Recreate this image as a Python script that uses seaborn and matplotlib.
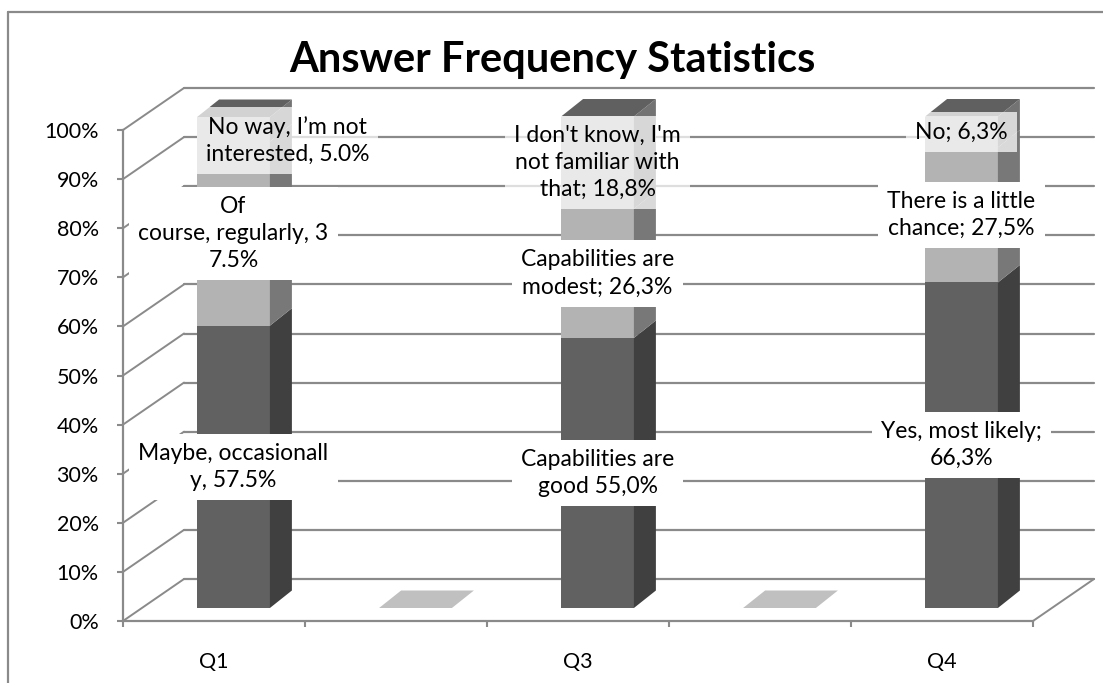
import numpy as np
import matplotlib
matplotlib.use("Agg")
import matplotlib.pyplot as plt
from matplotlib.patches import Polygon
from matplotlib.lines import Line2D
import seaborn as sns

# five category slots, the 2nd and 4th are empty in the source chart
slots = [0, 1, 2, 3, 4]
tick_labels = ["Q1", "", "Q3", "", "Q4"]

# stacked series, bottom to top (percent)
bottom_vals = [57.5, 0.0, 55.0, 0.0, 66.3]
middle_vals = [37.5, 0.0, 26.3, 0.0, 27.5]
top_vals = [5.0, 0.0, 18.8, 0.0, 6.3]

bottom_labels = ["Maybe, occasionall\ny, 57.5%", "", "Capabilities are\ngood 55,0%", "",
                 "Yes, most likely;\n66,3%"]
middle_labels = ["Of\ncourse, regularly, 3\n7.5%", "", "Capabilities are\nmodest; 26,3%", "",
                 "There is a little\nchance; 27,5%"]
top_labels = ["No way, I\u2019m not\ninterested, 5.0%", "",
              "I don't know, I'm\nnot familiar with\nthat; 18,8%", "", "No; 6,3%"]

y_ticks = [0, 10, 20, 30, 40, 50, 60, 70, 80, 90, 100]
title = "Answer Frequency Statistics"

# ---- geometry of the fake 3d box, in pixels ----
W, H = 1103, 683
AX_L, AX_R, AX_T, AX_B = 123, 1033, 130, 621
PX_X = (AX_R - AX_L) / 5.0
PX_Y = (AX_B - AX_T) / 100.0


def off(dx, dy):
    """pixel offset -> data offset"""
    return dx / PX_X, dy / PX_Y


WALL = off(61, 42)      # front plane -> back wall
BAR = off(19.5, 13)     # front plane -> bar front faces
DEPTH = off(22, 17.5)   # bar depth

GRID_C = "#8a8a8a"
front_colors = ["#616161", "#b3b3b3", "#b3b3b3"]
side_colors = ["#404040", "#787878", "#737373"]
label_alpha = [1.0, 1.0, 0.72]   # the top labels let the bar show through
TOP_C = "#606060"
SLAB_C = "#c0c0c0"

sns.set_theme(style="white")
plt.rcParams["font.family"] = ["Lato", "DejaVu Sans"]

fig = plt.figure(figsize=(W / 100, H / 100), dpi=100)
ax = fig.add_axes([AX_L / W, (H - AX_B) / H, (AX_R - AX_L) / W, (AX_B - AX_T) / H])
ax.set_facecolor("none")

# back wall, left wall and floor lines
for v in y_ticks:
    ax.plot([-0.5, -0.5 + WALL[0]], [v, v + WALL[1]], color=GRID_C, lw=1.4,
            clip_on=False, zorder=1)
    ax.plot([-0.5 + WALL[0], 4.5 + WALL[0]], [v + WALL[1], v + WALL[1]],
            color=GRID_C, lw=1.6, clip_on=False, zorder=1)
ax.plot([4.5, 4.5 + WALL[0]], [0, WALL[1]], color=GRID_C, lw=1.4, clip_on=False, zorder=1)

# stacked bars through seaborn, then pushed back into the box
series = [
    (bottom_vals, bottom_labels),
    (middle_vals, middle_labels),
    (top_vals, top_labels),
]
bottoms = np.zeros(len(slots))
bar_sets = []
for i, (vals, labels) in enumerate(series):
    n0 = len(ax.patches)
    sns.barplot(x=slots, y=vals, bottom=bottoms.copy(), color=front_colors[i],
                width=0.4, saturation=1, errorbar=None, linewidth=0, ax=ax, zorder=3)
    bars = list(ax.patches[n0:])
    for p in bars:
        p.set_x(p.get_x() + BAR[0])
        p.set_y(p.get_y() + BAR[1])
        p.set_clip_on(False)
    bar_sets.append(bars)
    bottoms = bottoms + np.array(vals)

# side faces
for i, bars in enumerate(bar_sets):
    for p in bars:
        if p.get_height() <= 0:
            continue
        xr = p.get_x() + p.get_width()
        yb = p.get_y()
        yt = yb + p.get_height()
        ax.add_patch(Polygon([(xr, yb), (xr + DEPTH[0], yb + DEPTH[1]),
                              (xr + DEPTH[0], yt + DEPTH[1]), (xr, yt)],
                             closed=True, fc=side_colors[i], ec="none",
                             clip_on=False, zorder=3))

# top faces (flat light slab where the column is empty)
for k, p in enumerate(bar_sets[-1]):
    xl = p.get_x()
    xr = xl + p.get_width()
    yt = p.get_y() + p.get_height()
    fc = TOP_C if bottoms[k] > 0 else SLAB_C
    ax.add_patch(Polygon([(xl, yt), (xr, yt), (xr + DEPTH[0], yt + DEPTH[1]),
                          (xl + DEPTH[0], yt + DEPTH[1])],
                         closed=True, fc=fc, ec="none", clip_on=False, zorder=3))

# data labels
nudge_px = {(2, 0): (54, -11)}
for i, (vals, labels) in enumerate(series):
    for k, p in enumerate(bar_sets[i]):
        if not labels[k]:
            continue
        dx, dy = off(*nudge_px.get((i, k), (0, 0)))
        ax.text(p.get_x() + p.get_width() / 2 + dx, p.get_y() + p.get_height() / 2 + dy,
                labels[k], ha="center", va="center", fontsize=16.5, linespacing=1.35,
                color="black", zorder=10, clip_on=False,
                bbox=dict(boxstyle="square,pad=0.4", fc="white", ec="none",
                          alpha=label_alpha[i]))

# axes
ax.set_xlim(-0.5, 4.5)
ax.set_ylim(0, 100)
ax.set_xlabel("")
ax.set_ylabel("")
ax.set_yticks(y_ticks)
ax.set_yticklabels([f"{v}%" for v in y_ticks])
ax.set_xticks(slots)
ax.set_xticklabels(tick_labels)
ax.set_xticks([s - 0.5 for s in slots] + [4.5], minor=True)
ax.tick_params(axis="x", which="major", length=0, pad=22, labelsize=15.5, labelcolor="black")
ax.tick_params(axis="x", which="minor", length=4.5, width=1.5, color=GRID_C, direction="out",
               bottom=True)
ax.tick_params(axis="y", length=4.5, width=1.5, color=GRID_C, direction="out", left=True,
               pad=13, labelsize=15.5, labelcolor="black")
for side in ["top", "right"]:
    ax.spines[side].set_visible(False)
for side in ["left", "bottom"]:
    ax.spines[side].set_color(GRID_C)
    ax.spines[side].set_linewidth(1.6)
    ax.spines[side].set_zorder(2)

fig.text(552 / W, 1 - 60 / H, title, ha="center", va="center", fontsize=30,
         fontweight="bold", color="black")

# outer chart frame (runs off the right and bottom edges)
fig.add_artist(Line2D([8 / W, 8 / W], [1 - 12 / H, -0.05], color=GRID_C, lw=1.6,
                      transform=fig.transFigure))
fig.add_artist(Line2D([8 / W, 1.05], [1 - 12 / H, 1 - 12 / H], color=GRID_C, lw=1.6,
                      transform=fig.transFigure))

fig.savefig("out.png", dpi=100)
